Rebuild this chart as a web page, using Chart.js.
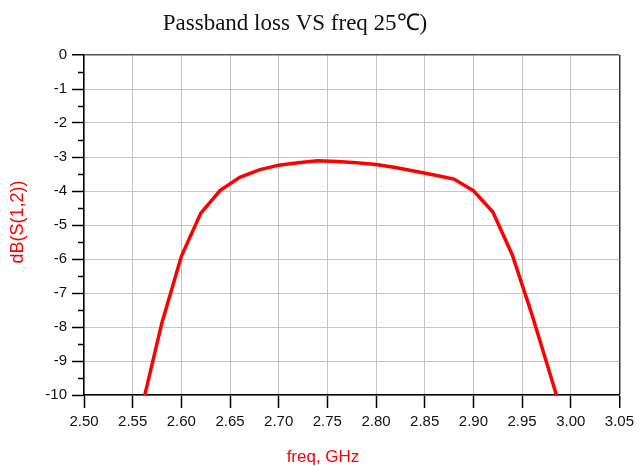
<!DOCTYPE html>
<html>
<head>
<meta charset="utf-8">
<script src="https://cdn.jsdelivr.net/npm/chart.js@4"></script>
<style>
  body { margin: 0; background: #fff; }
</style>
</head>
<body>
<canvas id="lossChart" width="639" height="466"></canvas>
<script>
// passband loss
var freq = [2.56, 2.58, 2.60, 2.62, 2.64, 2.66, 2.68, 2.70, 2.72, 2.74, 2.76, 2.78,
            2.80, 2.82, 2.84, 2.86, 2.88, 2.90, 2.92, 2.94, 2.96, 2.98, 3.00];
var dbS12 = [-10.3, -7.88, -5.92, -4.65, -3.98, -3.60, -3.38, -3.24, -3.17, -3.11, -3.13, -3.17,
             -3.22, -3.31, -3.42, -3.53, -3.65, -3.99, -4.62, -5.88, -7.62, -9.5, -11.4];
var yMinorTicks = [-9.5, -8.5, -7.5, -6.5, -5.5, -4.5, -3.5, -2.5, -1.5, -0.5];

var titleText = "Passband loss VS freq 25\u2103)";
var xTitle = "freq, GHz";
var yTitle = "dB(S(1,2))";

var points = freq.map(function (f, i) { return { x: f, y: dbS12[i] }; });

// white background + titles + short minor ticks on the y axis
var extras = {
  id: 'extras',
  beforeDraw: function (chart) {
    var c = chart.ctx;
    c.save();
    c.fillStyle = '#fff';
    c.fillRect(0, 0, chart.width, chart.height);
    c.restore();
  },
  afterDraw: function (chart) {
    var c = chart.ctx;
    var ys = chart.scales.y;
    c.save();
    c.strokeStyle = '#000';
    c.lineWidth = 1.5;
    yMinorTicks.forEach(function (v) {
      var py = Math.round(ys.getPixelForValue(v)) + 0.5;
      c.beginPath();
      c.moveTo(ys.right - 6, py);
      c.lineTo(ys.right, py);
      c.stroke();
    });

    c.fillStyle = '#111';
    c.font = '23px "Liberation Serif", "Times New Roman", serif';
    c.textAlign = 'center';
    c.textBaseline = 'alphabetic';
    c.fillText(titleText, 295, 30);

    c.fillStyle = '#ff0000';
    c.font = '17px "Liberation Sans", Arial, sans-serif';
    c.textBaseline = 'middle';
    c.fillText(xTitle, 323, 457);

    c.translate(18, 222);
    c.rotate(-Math.PI / 2);
    c.font = '18px "Liberation Sans", Arial, sans-serif';
    c.fillText(yTitle, 0, 0);
    c.restore();
  }
};

var ctxL = document.getElementById("lossChart").getContext('2d');
var lossChart = new Chart(ctxL, {
  type: 'line',
  data: {
    datasets: [{
      data: points,
      borderColor: '#ff0000',
      borderWidth: 3.5,
      pointRadius: 0,
      tension: 0,
      fill: false
    }]
  },
  options: {
    responsive: false,
    animation: false,
    devicePixelRatio: 1,
    layout: { padding: { top: 55, right: 17, left: 0, bottom: 0 } },
    plugins: {
      legend: { display: false },
      tooltip: { enabled: false }
    },
    scales: {
      x: {
        type: 'linear',
        min: 2.5,
        max: 3.05,
        afterFit: function (s) { s.height = 71; },
        ticks: {
          stepSize: 0.05,
          padding: 5,
          color: '#111',
          font: { family: '"Liberation Sans", Arial, sans-serif', size: 15 },
          callback: function (v) { return v.toFixed(2); }
        },
        grid: {
          color: function (c) {
            return Math.abs(c.tick.value - 3.05) < 1e-6 ? '#333' : '#c4c4c4';
          },
          lineWidth: function (c) {
            return Math.abs(c.tick.value - 3.05) < 1e-6 ? 1.5 : 1;
          },
          tickColor: '#000',
          tickLength: 13,
          tickWidth: 1.5
        },
        border: { color: '#000', width: 1.5 }
      },
      y: {
        min: -10,
        max: 0,
        afterFit: function (s) { s.width = 84; },
        ticks: {
          stepSize: 1,
          padding: 5,
          color: '#111',
          font: { family: '"Liberation Sans", Arial, sans-serif', size: 15 }
        },
        grid: {
          color: function (c) { return c.tick.value === 0 ? '#555' : '#c4c4c4'; },
          lineWidth: function (c) { return c.tick.value === 0 ? 1.5 : 1; },
          tickColor: '#000',
          tickLength: 12,
          tickWidth: 1.5
        },
        border: { color: '#000', width: 1.5 }
      }
    }
  },
  plugins: [extras]
});
</script>
</body>
</html>
